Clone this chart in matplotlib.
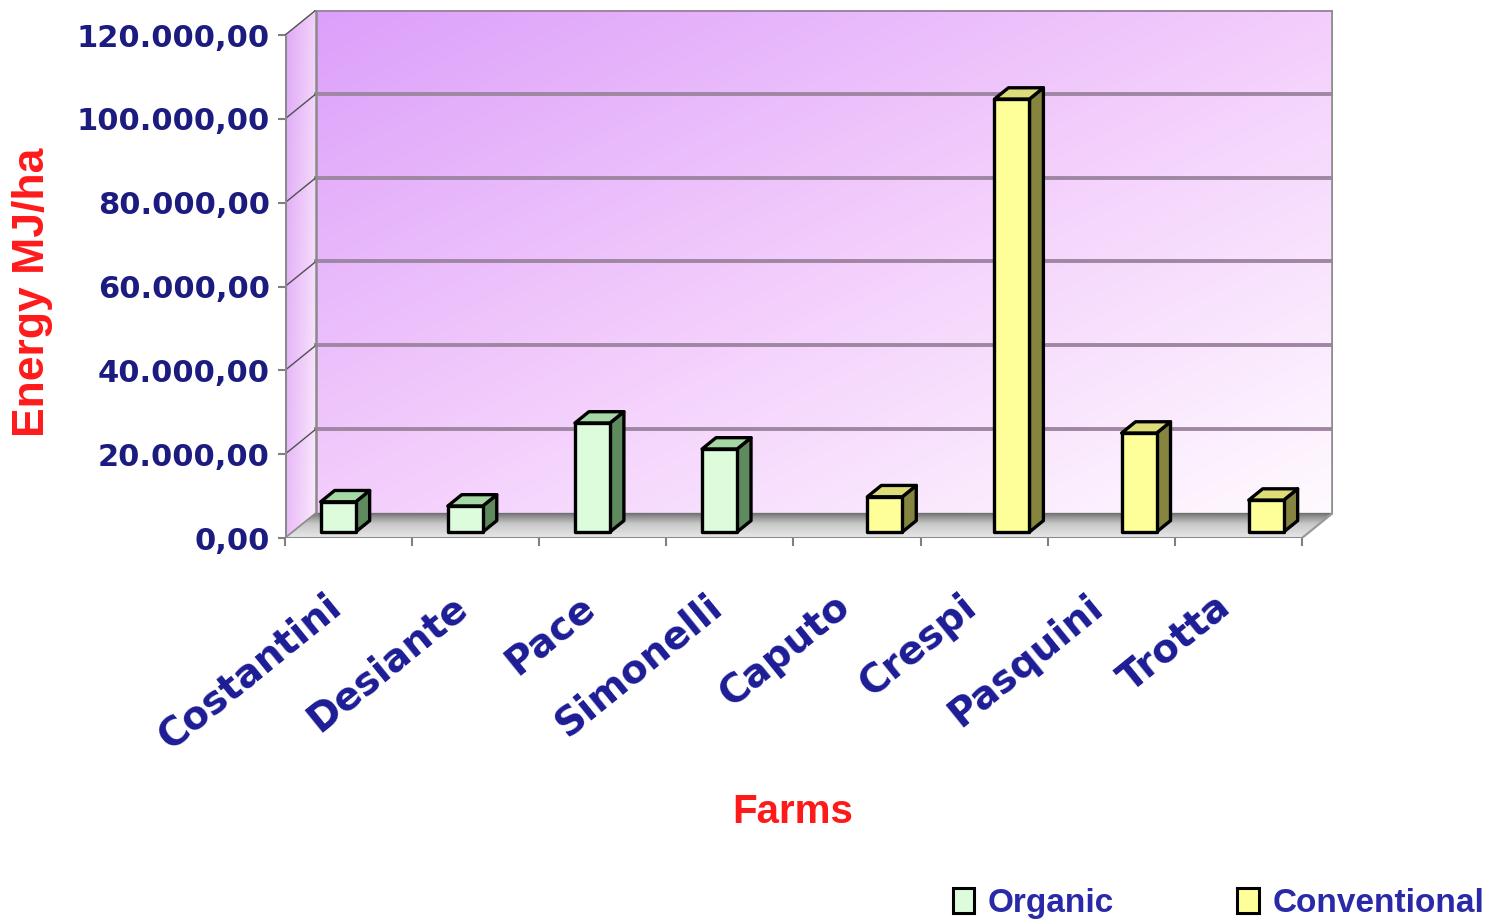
import numpy as np
import matplotlib.pyplot as plt
from matplotlib.patches import Polygon, Patch
from matplotlib.ticker import FuncFormatter

# energy input per farm (MJ/ha)
farms = ['Costantini', 'Desiante', 'Pace', 'Simonelli',
         'Caputo', 'Crespi', 'Pasquini', 'Trotta']
organic = [7200, 6200, 26000, 19800, np.nan, np.nan, np.nan, np.nan]
conventional = [np.nan, np.nan, np.nan, np.nan, 8400, 103300, 23600, 7600]
y_ticks = [0, 20000, 40000, 60000, 80000, 100000, 120000]

# oblique "3D" projection: depth shift in data units
DX = 0.244
DY = 6000
YMAX = 120000
bar_w = 0.275
bar_front = 0.24   # depth fraction where bar front faces sit
bar_depth = 0.45   # depth fraction taken by each bar

navy = '#1c1c80'
red = '#ff1a1a'

plt.rcParams['font.family'] = 'DejaVu Sans'
fig = plt.figure(figsize=(14.95, 9.21), dpi=100)
ax = fig.add_axes([285 / 1495, (921 - 538) / 921, (1333 - 285) / 1495, (538 - 10) / 921])
x0, x1 = -0.5, len(farms) - 0.5


def gradient_fill(poly, img, zorder):
    ax.add_patch(poly)
    xs, ys = poly.get_xy()[:, 0], poly.get_xy()[:, 1]
    im = ax.imshow(img, extent=(xs.min(), xs.max(), ys.min(), ys.max()),
                   origin='lower', aspect='auto', interpolation='bicubic', zorder=zorder)
    im.set_clip_path(poly)


def ramp(t, stops, colors):
    cols = np.array(colors) / 255.0
    return np.stack([np.interp(t, stops, cols[:, k]) for k in range(3)], axis=-1)


n = 80
u, v = np.meshgrid(np.linspace(0, 1, n), np.linspace(0, 1, n))

# back wall: purple top-left fading through pink to white bottom-right
t = np.clip((u + (1 - v)) / 2, 0, 1)
wall = ramp(t, [0, 0.5, 1], [(220, 160, 250), (243, 206, 252), (255, 250, 255)])
back = Polygon([(x0 + DX, DY), (x1 + DX, DY), (x1 + DX, YMAX + DY), (x0 + DX, YMAX + DY)],
               closed=True, facecolor='none', edgecolor='none')
gradient_fill(back, wall, 0)

# left side wall: darker at the front edge, pale towards the back corner
ts = np.clip(0.7 * u + 0.3 * (1 - v), 0, 1)
side_img = ramp(ts, [0, 0.6, 1], [(222, 168, 246), (240, 206, 250), (252, 236, 254)])
side = Polygon([(x0, 0), (x0 + DX, DY), (x0 + DX, YMAX + DY), (x0, YMAX)],
               closed=True, facecolor='none', edgecolor='none')
gradient_fill(side, side_img, 0)

# floor: dark band at the back, light towards the front
floor_img = ramp(v, [0, 0.55, 0.85, 1], [(232, 232, 232), (200, 200, 200),
                                         (140, 140, 140), (100, 100, 100)])
floor = Polygon([(x0, 0), (x1, 0), (x1 + DX, DY), (x0 + DX, DY)],
                closed=True, facecolor='none', edgecolor='none')
gradient_fill(floor, floor_img, 0)

# gridlines on back wall and side wall
for yv in y_ticks[1:]:
    ax.plot([x0 + DX, x1 + DX], [yv + DY, yv + DY], color='#9f86a3', lw=2.8, zorder=1)
    ax.plot([x0, x0 + DX], [yv, yv + DY], color='#505050', lw=1.0, zorder=1)
ax.plot([x0, x0 + DX], [0, DY], color='#8a8a8a', lw=1.2, zorder=1)
ax.plot([x1 + DX, x1 + DX], [DY, YMAX + DY], color='#8c8c8c', lw=2.6, zorder=1)
ax.plot([x0 + DX, x0 + DX], [DY, YMAX + DY], color='#8a8a8a', lw=1.8, zorder=1)

# front axis lines
ax.plot([x0, x0], [0, YMAX], color='#8a8a8a', lw=2.2, zorder=2, solid_capstyle='butt')
ax.plot([x0, x1], [0, 0], color='#8a8a8a', lw=2.2, zorder=2)
ax.plot([x1, x1 + DX], [0, DY], color='#9a9a9a', lw=1.6, zorder=2)


def draw_bar(xc, val, front, side, top):
    if np.isnan(val):
        return
    bx = xc - bar_w / 2 + bar_front * DX
    by = bar_front * DY
    ddx, ddy = bar_depth * DX, bar_depth * DY
    kw = dict(closed=True, edgecolor='black', lw=2.4, joinstyle='round', zorder=3)
    ax.add_patch(Polygon([(bx + bar_w, by), (bx + bar_w + ddx, by + ddy),
                          (bx + bar_w + ddx, by + val + ddy), (bx + bar_w, by + val)],
                         facecolor=side, **kw))
    ax.add_patch(Polygon([(bx, by + val), (bx + bar_w, by + val),
                          (bx + bar_w + ddx, by + val + ddy), (bx + ddx, by + val + ddy)],
                         facecolor=top, **kw))
    ax.add_patch(Polygon([(bx, by), (bx + bar_w, by), (bx + bar_w, by + val), (bx, by + val)],
                         facecolor=front, **kw))


for i in range(len(farms)):
    draw_bar(i - 0.14, organic[i], '#dcfcdc', '#5e8a5e', '#a6d8a6')
    draw_bar(i + 0.16, conventional[i], '#ffff99', '#85853f', '#dcdc78')

ax.set_xlim(x0, x1 + DX)
ax.set_ylim(0, 126000)
for s in ax.spines.values():
    s.set_visible(False)

ax.set_yticks(y_ticks)
ax.yaxis.set_major_formatter(FuncFormatter(
    lambda val, pos: f'{val:,.2f}'.replace(',', ' ').replace('.', ',').replace(' ', '.')))
ax.tick_params(axis='y', length=5, width=1.5, color='#808080', pad=6,
               labelsize=22, labelcolor=navy)
for lab in ax.get_yticklabels():
    lab.set_fontweight('bold')

# category names sit slightly left of the slot centre (invisible major ticks)
ax.set_xticks(np.arange(len(farms)) - 0.1)
ax.set_xticklabels(farms, rotation=39, ha='right', va='center', rotation_mode='anchor',
                   fontsize=28, fontweight='bold', color='#1c1c96')
ax.set_xticks(np.arange(x0, x1 + 0.5, 1.0), minor=True)
ax.tick_params(axis='x', which='major', length=0, pad=46)
ax.tick_params(axis='x', which='minor', length=6, width=1.5, color='#808080')

fig.text(33 / 1495, 1 - 292 / 921, 'Energy MJ/ha', rotation=90, ha='center', va='center',
         fontsize=32, fontweight='bold', color=red, family='Liberation Sans')
fig.text(793 / 1495, 1 - 812 / 921, 'Farms', ha='center', va='center',
         fontsize=29, fontweight='bold', color=red, family='Liberation Sans')

handles = [Patch(facecolor='#dcfcdc', edgecolor='black', lw=2.2),
           Patch(facecolor='#ffff99', edgecolor='black', lw=2.2)]
leg = fig.legend(handles, ['Organic', 'Conventional'], ncol=2, frameon=False,
                 loc='lower right', bbox_to_anchor=(1484 / 1495, 2 / 921),
                 borderpad=0, borderaxespad=0, handlelength=0.65, handleheight=0.75,
                 handletextpad=0.4, columnspacing=3.7,
                 prop={'family': 'Liberation Sans', 'weight': 'bold', 'size': 24})
for txt in leg.get_texts():
    txt.set_color('#2a2aa8')

fig.savefig('out.png', dpi=100)
